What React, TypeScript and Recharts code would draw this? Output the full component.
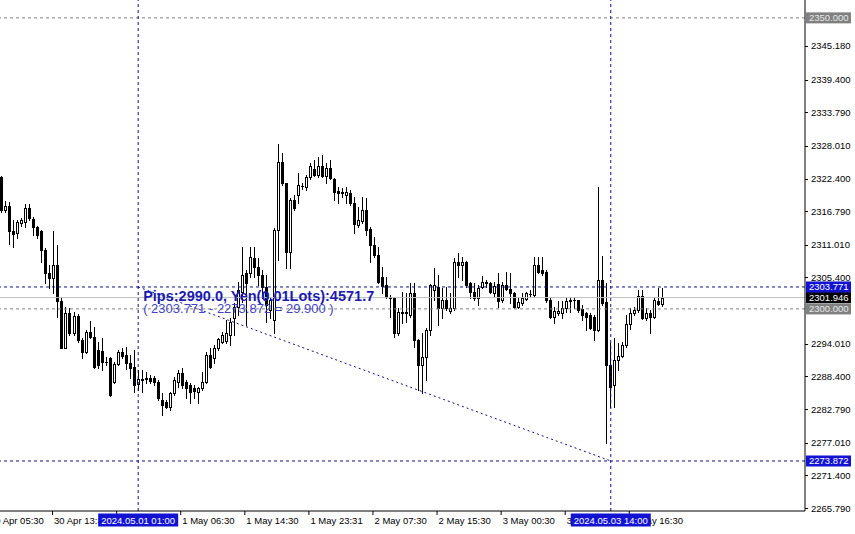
import React from 'react';
import { ComposedChart, Bar, XAxis, YAxis, ReferenceLine, ReferenceDot } from 'recharts';

// XAUUSD 30-minute candles (open, high, low, close), oldest first
const opens = [
  2322.7, 2317.0, 2317.7, 2313.4, 2313.0, 2314.7, 2314.9, 2317.3, 2315.4, 2314.1,
  2313.4, 2310.1, 2306.2, 2305.3, 2307.5, 2301.4, 2293.3, 2299.3, 2295.9, 2298.8,
  2294.7, 2292.6, 2296.0, 2295.2, 2292.9, 2292.8, 2290.9, 2291.6, 2287.4, 2290.5,
  2292.6, 2292.1, 2290.7, 2290.0, 2287.1, 2288.0, 2288.0, 2288.1, 2288.1, 2287.4,
  2284.3, 2284.0, 2283.1, 2285.6, 2287.4, 2289.0, 2287.4, 2286.9, 2286.4, 2285.7,
  2286.4, 2287.4, 2292.1, 2291.6, 2293.3, 2294.3, 2294.5, 2295.5, 2298.4, 2300.3,
  2302.9, 2306.2, 2306.2, 2308.7, 2307.2, 2305.8, 2303.8, 2299.8, 2298.1, 2313.6,
  2325.2, 2321.6, 2309.8, 2318.7, 2319.6, 2321.1, 2321.0, 2322.7, 2324.0, 2323.0,
  2324.5, 2322.8, 2324.2, 2322.3, 2320.3, 2319.9, 2319.6, 2319.9, 2318.2, 2314.4,
  2315.1, 2317.0, 2313.7, 2311.0, 2309.3, 2305.5, 2304.1, 2302.0, 2301.9, 2295.9,
  2299.3, 2299.3, 2299.0, 2302.7, 2294.7, 2290.4, 2291.7, 2296.4, 2303.3, 2303.8,
  2300.2, 2301.5, 2299.6, 2300.2, 2308.1, 2307.5, 2308.1, 2304.5, 2302.9, 2301.9,
  2303.8, 2304.6, 2304.5, 2302.7, 2304.3, 2301.5, 2304.1, 2303.4, 2302.7, 2300.3,
  2301.0, 2301.7, 2302.6, 2302.4, 2307.5, 2306.7, 2306.3, 2301.5, 2298.6, 2299.3,
  2299.3, 2300.2, 2301.5, 2301.5, 2301.5, 2300.0, 2299.3, 2299.0, 2298.6, 2296.4,
  2305.0, 2301.2, 2290.4, 2286.9, 2291.2, 2291.9, 2293.8, 2297.4, 2299.3, 2299.8,
  2302.2, 2298.4, 2299.3, 2298.6, 2301.4, 2300.9,
];
const highs = [
  2322.8, 2318.5, 2318.4, 2315.3, 2315.3, 2315.6, 2318.0, 2318.0, 2315.8, 2314.2,
  2313.6, 2310.5, 2307.5, 2313.4, 2311.0, 2302.0, 2300.3, 2300.2, 2299.5, 2299.1,
  2295.0, 2296.4, 2297.9, 2296.9, 2294.3, 2295.0, 2291.7, 2291.7, 2290.9, 2293.0,
  2293.3, 2293.5, 2292.1, 2292.9, 2289.5, 2289.5, 2289.2, 2288.6, 2288.5, 2287.8,
  2285.6, 2284.3, 2285.7, 2288.3, 2289.5, 2289.9, 2287.8, 2287.3, 2286.9, 2286.6,
  2289.2, 2292.6, 2293.3, 2293.8, 2295.0, 2296.0, 2298.1, 2298.4, 2301.0, 2304.6,
  2310.6, 2306.7, 2310.6, 2310.6, 2308.7, 2306.7, 2305.8, 2302.0, 2313.9, 2328.3,
  2326.8, 2321.7, 2319.1, 2319.6, 2323.3, 2321.6, 2323.0, 2325.1, 2325.6, 2326.1,
  2326.4, 2325.1, 2325.6, 2322.5, 2321.0, 2320.8, 2321.0, 2320.4, 2319.2, 2317.5,
  2319.2, 2319.1, 2314.1, 2312.4, 2310.6, 2307.2, 2305.5, 2302.4, 2302.0, 2300.2,
  2302.9, 2302.7, 2304.5, 2304.5, 2294.8, 2295.9, 2296.7, 2304.3, 2307.0, 2305.8,
  2303.6, 2303.8, 2302.7, 2308.7, 2309.6, 2308.9, 2308.2, 2304.6, 2304.5, 2304.1,
  2305.7, 2305.0, 2304.6, 2304.6, 2306.2, 2304.6, 2306.3, 2306.2, 2302.9, 2301.9,
  2302.7, 2302.9, 2303.3, 2308.9, 2308.9, 2308.9, 2306.7, 2301.9, 2300.3, 2301.4,
  2301.4, 2302.0, 2302.0, 2302.0, 2301.6, 2300.7, 2299.5, 2299.3, 2299.0, 2321.0,
  2309.1, 2304.5, 2294.2, 2295.0, 2294.2, 2294.3, 2299.0, 2300.2, 2300.3, 2303.3,
  2303.3, 2300.2, 2299.8, 2302.0, 2303.6, 2303.6,
];
const lows = [
  2316.6, 2316.6, 2311.2, 2310.6, 2312.2, 2314.2, 2314.1, 2315.3, 2312.7, 2312.2,
  2308.1, 2304.5, 2303.6, 2302.7, 2298.6, 2293.2, 2293.2, 2295.5, 2295.5, 2294.3,
  2291.6, 2292.4, 2295.0, 2289.9, 2289.9, 2289.5, 2290.4, 2285.0, 2287.3, 2290.4,
  2291.6, 2289.7, 2288.1, 2285.7, 2286.1, 2285.7, 2287.3, 2287.3, 2286.9, 2284.3,
  2281.8, 2283.0, 2282.6, 2285.2, 2286.6, 2286.4, 2284.7, 2283.8, 2284.7, 2283.8,
  2286.1, 2287.3, 2289.9, 2290.7, 2292.9, 2294.2, 2294.2, 2293.8, 2295.5, 2299.0,
  2301.2, 2297.2, 2305.5, 2305.5, 2304.1, 2301.9, 2297.8, 2298.4, 2295.9, 2308.4,
  2321.3, 2307.0, 2307.0, 2317.0, 2318.2, 2320.6, 2320.4, 2322.3, 2322.8, 2322.7,
  2322.7, 2321.6, 2322.3, 2318.7, 2318.2, 2319.2, 2318.2, 2317.9, 2313.0, 2314.1,
  2314.7, 2312.7, 2308.1, 2308.9, 2304.5, 2302.7, 2301.9, 2298.6, 2295.2, 2295.5,
  2297.6, 2297.8, 2298.6, 2293.5, 2286.1, 2285.6, 2287.8, 2295.5, 2301.5, 2297.2,
  2298.4, 2299.8, 2299.3, 2299.8, 2305.5, 2305.0, 2303.8, 2301.9, 2301.5, 2300.7,
  2303.6, 2303.8, 2302.7, 2302.0, 2300.3, 2301.2, 2303.3, 2301.0, 2300.2, 2300.2,
  2300.7, 2301.5, 2302.2, 2302.0, 2306.2, 2305.8, 2301.2, 2298.4, 2297.6, 2299.0,
  2298.4, 2299.5, 2299.5, 2300.2, 2299.5, 2298.1, 2296.4, 2296.6, 2294.7, 2296.2,
  2300.7, 2276.96, 2283.1, 2283.1, 2289.5, 2291.7, 2293.5, 2296.6, 2299.0, 2299.5,
  2298.3, 2298.1, 2295.9, 2298.4, 2300.7, 2300.5,
];
const closes = [
  2317.0, 2317.7, 2313.4, 2312.9, 2314.9, 2315.3, 2317.3, 2315.6, 2314.1, 2312.7,
  2310.1, 2306.2, 2305.3, 2307.5, 2301.4, 2293.3, 2299.3, 2295.9, 2298.8, 2294.7,
  2292.6, 2296.0, 2295.2, 2290.0, 2290.4, 2290.9, 2290.8, 2285.2, 2290.5, 2292.6,
  2291.9, 2290.7, 2289.9, 2286.9, 2288.0, 2287.8, 2288.1, 2287.6, 2287.4, 2284.7,
  2283.5, 2283.1, 2285.6, 2287.8, 2289.0, 2286.9, 2286.4, 2285.7, 2285.9, 2286.4,
  2287.4, 2292.1, 2290.0, 2293.3, 2294.8, 2295.5, 2295.9, 2297.8, 2300.3, 2303.3,
  2305.8, 2304.5, 2308.9, 2307.2, 2305.8, 2303.8, 2300.7, 2301.5, 2313.6, 2325.2,
  2321.6, 2309.8, 2318.7, 2317.3, 2321.3, 2321.2, 2322.7, 2324.5, 2323.0, 2324.5,
  2322.8, 2324.2, 2322.5, 2320.1, 2319.9, 2320.1, 2320.1, 2318.2, 2314.6, 2315.3,
  2317.0, 2313.6, 2311.0, 2309.3, 2304.6, 2304.0, 2302.0, 2301.9, 2295.9, 2299.5,
  2299.4, 2299.5, 2302.7, 2294.7, 2290.4, 2291.7, 2296.4, 2304.1, 2304.1, 2300.2,
  2301.5, 2300.2, 2300.2, 2308.1, 2307.5, 2308.1, 2304.1, 2302.9, 2301.9, 2303.6,
  2304.6, 2304.5, 2302.9, 2304.0, 2301.4, 2304.1, 2303.4, 2302.7, 2300.3, 2301.2,
  2301.9, 2302.7, 2302.5, 2307.5, 2306.3, 2306.2, 2301.5, 2298.6, 2299.6, 2299.6,
  2300.2, 2301.4, 2301.4, 2301.6, 2299.8, 2299.0, 2298.6, 2296.7, 2296.4, 2305.0,
  2301.0, 2290.4, 2286.6, 2291.2, 2291.9, 2293.8, 2297.4, 2299.3, 2299.8, 2302.2,
  2298.4, 2299.3, 2298.6, 2301.5, 2300.9, 2301.946,
];

// empty slots before the first visible candle and total slots on the time axis
const leadSlots = 3;
const totalSlots = 204;

// time axis labels (slot index -> text)
const xTickIdx = [0, 16, 32, 48, 64, 80, 96, 112, 128, 144, 160];
const xTickText = [
  '30 Apr 05:30', '30 Apr 13:30', '30 Apr 21:30', '1 May 06:30', '1 May 14:30',
  '1 May 23:31', '2 May 07:30', '2 May 15:30', '3 May 00:30', '3 May 08:30', '3 May 16:30',
];
// crosshair slots and their time labels
const crossIdx = [37, 155];
const crossText = ['2024.05.01 01:00', '2024.05.03 14:00'];

// price axis
const yDomain = [2265.28, 2353.07];
const yTickValues = [
  2345.18, 2339.4, 2333.79, 2328.01, 2322.4, 2316.79, 2311.01, 2305.4,
  2294.01, 2288.4, 2282.79, 2277.01, 2271.4, 2265.79,
];
const grayLevels = [2350.0, 2300.0];
const bidPrice = 2301.946;
const measureHigh = 2303.771;
const measureLow = 2273.872;
const pipsText = 'Pips:2990.0, Yen(0.01Lots):4571.7';
const rangeText = '( 2303.771 - 2273.872 = 29.900 )';

const FONT = '"Liberation Sans", Arial, sans-serif';
const NAVY = '#10108a';
const BOXBLUE = '#1212d2';

const data = Array.from({ length: totalSlots }, (_, i) => {
  const k = i - leadSlots;
  if (k >= 0 && k < opens.length) {
    return { i, o: opens[k], h: highs[k], l: lows[k], c: closes[k] };
  }
  return { i, o: null, h: null, l: null, c: null };
});

const specialY: { v: number; bg: string; fg: string }[] = [
  { v: grayLevels[0], bg: '#808080', fg: '#e8e8e8' },
  { v: grayLevels[1], bg: '#808080', fg: '#e8e8e8' },
  { v: bidPrice, bg: '#000000', fg: '#ffffff' },
  { v: measureHigh, bg: BOXBLUE, fg: '#ffffff' },
  { v: measureLow, bg: BOXBLUE, fg: '#ffffff' },
];
const yTicksAll = [...yTickValues, ...specialY.map((s) => s.v)];

const Candle = (props: any) => {
  const { x, y, width, height, payload } = props;
  if (!payload || payload.h == null || height == null || isNaN(height)) return null;
  const { o, h, l, c } = payload;
  const top = Math.min(y, y + height);
  const bottom = Math.max(y, y + height);
  const span = h - l;
  const ratio = span > 0 ? (bottom - top) / span : 0;
  const py = (v: number) => top + (h - v) * ratio;
  const cx = Math.round(x + width / 2 - 0.5) + 0.5;
  const bull = c > o;
  const bt = Math.round(py(Math.max(o, c))) + 0.5;
  const bb = Math.round(py(Math.min(o, c))) + 0.5;
  return (
    <g>
      <line x1={cx} x2={cx} y1={Math.round(top)} y2={Math.round(bottom) + 1} stroke="#000" strokeWidth={1} />
      {bb - bt < 1 ? (
        <line x1={cx - 1.5} x2={cx + 1.5} y1={bt} y2={bt} stroke="#000" strokeWidth={1} />
      ) : (
        <rect x={cx - 1} y={bt} width={2} height={bb - bt} fill={bull ? '#ffffff' : '#000000'} stroke="#000" strokeWidth={1} />
      )}
    </g>
  );
};

const XTick = (props: any) => {
  const { x, y, payload } = props;
  const v = payload.value;
  const ci = crossIdx.indexOf(v);
  if (ci >= 0) {
    return (
      <g>
        <rect x={x - 40} y={y + 2.5} width={80} height={13} fill={BOXBLUE} />
        <text x={x} y={y + 12.5} textAnchor="middle" fontSize={9.5} fontFamily={FONT} fill="#ffffff">
          {crossText[ci]}
        </text>
      </g>
    );
  }
  const j = xTickIdx.indexOf(v);
  if (j < 0) return null;
  return (
    <g>
      <line x1={x - 1.5} x2={x - 1.5} y1={y} y2={y + 4} stroke="#000" />
      <text x={x} y={y + 12.5} textAnchor="start" fontSize={9.5} fontFamily={FONT} fill="#000">
        {xTickText[j]}
      </text>
    </g>
  );
};

const YTick = (props: any) => {
  const { x, y, payload } = props;
  const v = payload.value;
  const s = specialY.find((t) => t.v === v);
  if (s) {
    return (
      <g>
        <rect x={x + 1} y={y - 5.5} width={45} height={11} fill={s.bg} />
        <text x={x + 4} y={y + 3.5} fontSize={9.5} fontFamily={FONT} fill={s.fg}>
          {v.toFixed(3)}
        </text>
      </g>
    );
  }
  return (
    <g>
      <line x1={x} x2={x + 3} y1={Math.round(y) + 0.5} y2={Math.round(y) + 0.5} stroke="#000" />
      <text x={x + 6} y={y + 3.5} fontSize={9.5} fontFamily={FONT} fill="#000">
        {v.toFixed(3)}
      </text>
    </g>
  );
};

const Annotation = (props: any) => {
  const vb = props.viewBox || {};
  const cx = (vb.x || 0) + (vb.width || 0) / 2;
  const cy = (vb.y || 0) + (vb.height || 0) / 2;
  return (
    <g>
      <text x={cx + 5} y={cy + 14} fontSize={14.5} fontWeight="bold" fontFamily={FONT} fill="#1a1ab0">
        {pipsText}
      </text>
      <text x={cx + 5} y={cy + 26.5} fontSize={13} fontFamily={FONT} fill="#4444c2">
        {rangeText}
      </text>
    </g>
  );
};

export default function App() {
  return (
    <div style={{ position: 'fixed', left: 0, top: 0, width: 855, height: 534, overflow: 'hidden', background: '#ffffff' }}>
      <div style={{ position: 'absolute', left: -12, top: 0 }}>
        <ComposedChart width={867} height={534} data={data} margin={{ top: 0, right: 0, bottom: 0, left: 0 }}>
          <XAxis
            dataKey="i"
            type="category"
            height={23}
            ticks={[...xTickIdx, ...crossIdx]}
            interval={0}
            tick={<XTick />}
            tickLine={false}
            tickSize={0}
            tickMargin={0}
            axisLine={{ stroke: '#000' }}
          />
          <YAxis
            orientation="right"
            type="number"
            width={50}
            domain={yDomain}
            allowDataOverflow
            ticks={yTicksAll}
            interval={0}
            tick={<YTick />}
            tickLine={false}
            tickSize={0}
            tickMargin={0}
            axisLine={{ stroke: '#000' }}
          />
          <ReferenceLine y={grayLevels[0]} stroke="#808080" strokeDasharray="3 3" />
          <ReferenceLine y={grayLevels[1]} stroke="#808080" strokeDasharray="3 3" />
          <ReferenceLine y={bidPrice} stroke="#c0c0c0" />
          <ReferenceLine y={measureHigh} stroke={NAVY} strokeDasharray="3 3" />
          <ReferenceLine y={measureLow} stroke={NAVY} strokeDasharray="3 3" />
          <ReferenceLine x={crossIdx[0]} stroke={NAVY} strokeDasharray="3 3" />
          <ReferenceLine x={crossIdx[1]} stroke={NAVY} strokeDasharray="3 3" />
          <ReferenceLine
            segment={[
              { x: crossIdx[0], y: measureHigh },
              { x: crossIdx[1], y: measureLow },
            ]}
            stroke={NAVY}
            strokeDasharray="2 3"
          />
          <Bar
            dataKey={(d: any) => (d.h == null ? null : [d.l, d.h])}
            shape={<Candle />}
            isAnimationActive={false}
          />
          <ReferenceDot x={crossIdx[0]} y={measureHigh} r={1} fill="none" stroke="none" label={<Annotation />} />
        </ComposedChart>
      </div>
    </div>
  );
}
